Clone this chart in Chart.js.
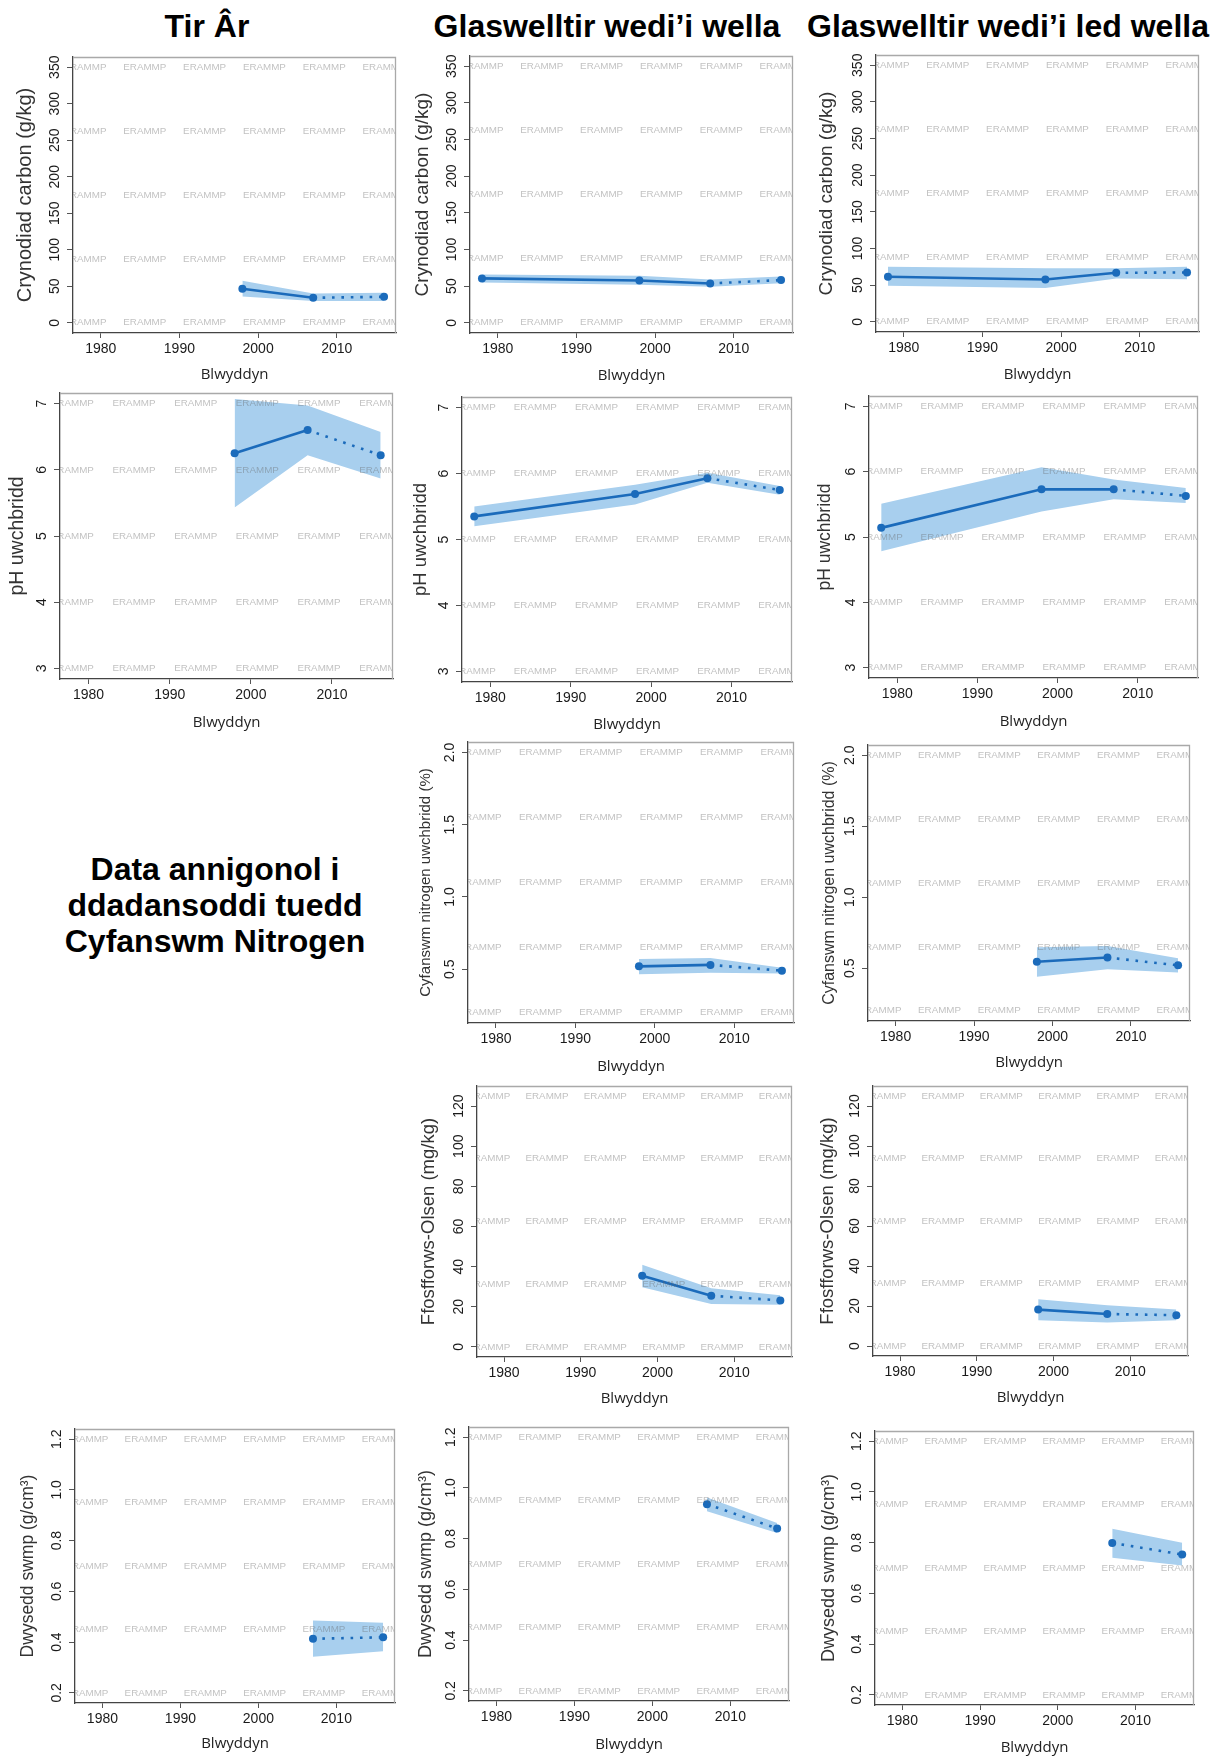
<!DOCTYPE html>
<html><head><meta charset="utf-8">
<script src="https://cdn.jsdelivr.net/npm/chart.js@4.4.1/dist/chart.umd.min.js"></script>
<style>
html,body{margin:0;padding:0;background:#fff;}
body{width:1217px;height:1758px;position:relative;overflow:hidden;font-family:'Liberation Sans',Arial,sans-serif;}
.hd{position:absolute;top:10px;font-weight:bold;font-size:32px;line-height:32px;color:#000;white-space:nowrap;transform:translateX(-50%);}
.note{position:absolute;left:215px;top:851px;transform:translateX(-50%);font-weight:bold;font-size:32px;line-height:36px;text-align:center;white-space:nowrap;color:#000;}
canvas{position:absolute;}
</style></head><body>
<div class="hd" style="left:207px">Tir Âr</div>
<div class="hd" style="left:607px">Glaswelltir wedi’i wella</div>
<div class="hd" style="left:1008px">Glaswelltir wedi’i led wella</div>
<div class="note">Data annigonol i<br>ddadansoddi tuedd<br>Cyfanswm Nitrogen</div>
<script>
// ---------- data ----------
const years = [1978, 1998, 2007, 2016];
const yearRange = [1978, 2016];
const yearTicks = [1980, 1990, 2000, 2010];
const yearTitle = 'Blwyddyn';

const carbonTitle = 'Crynodiad carbon (g/kg)';
const carbonRange = [0, 350];
const carbonTicks = [0, 50, 100, 150, 200, 250, 300, 350];
const carbonTickLabels = ['0', '50', '100', '150', '200', '250', '300', '350'];

const phTitle = 'pH uwchbridd';
const phRange = [3, 7];
const phTicks = [3, 4, 5, 6, 7];
const phTickLabels = ['3', '4', '5', '6', '7'];

const nitrogenTitle = 'Cyfanswm nitrogen uwchbridd (%)';
const nitrogenRange = [0.2, 2.0];
const nitrogenTicks = [0.5, 1.0, 1.5, 2.0];
const nitrogenTickLabels = ['0.5', '1.0', '1.5', '2.0'];

const phosphorusTitle = 'Ffosfforws-Olsen (mg/kg)';
const phosphorusRange = [0, 125];
const phosphorusTicks = [0, 20, 40, 60, 80, 100, 120];
const phosphorusTickLabels = ['0', '20', '40', '60', '80', '100', '120'];

const densityTitle = 'Dwysedd swmp (g/cm³)';
const densityRange = [0.2, 1.2];
const densityTicks = [0.2, 0.4, 0.6, 0.8, 1.0, 1.2];
const densityTickLabels = ['0.2', '0.4', '0.6', '0.8', '1.0', '1.2'];

const watermarkText = 'ERAMMP';

// Carbon
const carbonArable      = [null, 46.5, 34.2, 35.6];
const carbonArableLow   = [null, 36.0, 29.7, 29.7];
const carbonArableHigh  = [null, 57.5, 40.2, 41.0];
const carbonImproved     = [60.5, 57.7, 53.6, 58.2];
const carbonImprovedLow  = [55.0, 52.0, 49.0, 54.0];
const carbonImprovedHigh = [66.0, 64.0, 59.0, 63.0];
const carbonSemi     = [61.4, 57.7, 66.8, 67.3];
const carbonSemiLow  = [49.0, 46.0, 59.0, 58.0];
const carbonSemiHigh = [75.0, 73.0, 73.0, 75.0];

// pH
const phArable     = [null, 6.25, 6.60, 6.22];
const phArableLow  = [null, 5.43, 6.22, 5.87];
const phArableHigh = [null, 7.07, 6.97, 6.57];
const phImproved     = [5.35, 5.69, 5.93, 5.75];
const phImprovedLow  = [5.20, 5.53, 5.86, 5.68];
const phImprovedHigh = [5.50, 5.83, 6.01, 5.81];
const phSemi     = [5.14, 5.73, 5.73, 5.63];
const phSemiLow  = [4.78, 5.39, 5.58, 5.52];
const phSemiHigh = [5.51, 6.07, 5.88, 5.75];

// Nitrogen
const nitrogenImproved     = [null, 0.52, 0.53, 0.49];
const nitrogenImprovedLow  = [null, 0.465, 0.475, 0.47];
const nitrogenImprovedHigh = [null, 0.57, 0.578, 0.51];
const nitrogenSemi     = [null, 0.545, 0.575, 0.52];
const nitrogenSemiLow  = [null, 0.44, 0.493, 0.47];
const nitrogenSemiHigh = [null, 0.648, 0.657, 0.57];

// Phosphorus
const phosphorusImproved     = [null, 35.5, 25.5, 23.2];
const phosphorusImprovedLow  = [null, 29.7, 21.4, 21.0];
const phosphorusImprovedHigh = [null, 41.0, 29.3, 25.7];
const phosphorusSemi     = [null, 18.2, 16.0, 15.4];
const phosphorusSemiLow  = [null, 12.9, 11.7, 12.9];
const phosphorusSemiHigh = [null, 23.4, 20.4, 18.2];

// Bulk density
const densityArable     = [null, null, 0.413, 0.419];
const densityArableLow  = [null, null, 0.342, 0.364];
const densityArableHigh = [null, null, 0.485, 0.476];
const densityImproved     = [null, null, 0.936, 0.840];
const densityImprovedLow  = [null, null, 0.908, 0.822];
const densityImprovedHigh = [null, null, 0.962, 0.862];
const densitySemi     = [null, null, 0.799, 0.753];
const densitySemiLow  = [null, null, 0.740, 0.710];
const densitySemiHigh = [null, null, 0.855, 0.800];

// ---------- axes ----------
const axes = {
  carbon:     {title: carbonTitle, range: carbonRange, ticks: carbonTicks, labels: carbonTickLabels},
  ph:         {title: phTitle, range: phRange, ticks: phTicks, labels: phTickLabels},
  nitrogen:   {title: nitrogenTitle, range: nitrogenRange, ticks: nitrogenTicks, labels: nitrogenTickLabels},
  phosphorus: {title: phosphorusTitle, range: phosphorusRange, ticks: phosphorusTicks, labels: phosphorusTickLabels},
  density:    {title: densityTitle, range: densityRange, ticks: densityTicks, labels: densityTickLabels}
};

// ---------- layout (plot boxes: left, top, right, bottom) ----------
const panels = [
  {axis:'carbon', mean:carbonArable, low:carbonArableLow, high:carbonArableHigh, box:[73,57,396,333], tOff:48, tSize:20, xt:42},
  {axis:'carbon', mean:carbonImproved, low:carbonImprovedLow, high:carbonImprovedHigh, box:[470,56,793,333], tOff:47, tSize:19, xt:43},
  {axis:'carbon', mean:carbonSemi, low:carbonSemiLow, high:carbonSemiHigh, box:[876,55,1199,332], tOff:49, tSize:19, xt:43},
  {axis:'ph', mean:phArable, low:phArableLow, high:phArableHigh, box:[60,393,393,679], tOff:42, tSize:19.5, xt:44},
  {axis:'ph', mean:phImproved, low:phImprovedLow, high:phImprovedHigh, box:[462,397,792,682], tOff:41, tSize:18.5, xt:43},
  {axis:'ph', mean:phSemi, low:phSemiLow, high:phSemiHigh, box:[869,396,1198,678], tOff:44, tSize:17.5, xt:44},
  {axis:'nitrogen', mean:nitrogenImproved, low:nitrogenImprovedLow, high:nitrogenImprovedHigh, box:[468,742,794,1023], tOff:42, tSize:15, xt:44},
  {axis:'nitrogen', mean:nitrogenSemi, low:nitrogenSemiLow, high:nitrogenSemiHigh, box:[868,745,1190,1021], tOff:38, tSize:16, xt:42},
  {axis:'phosphorus', mean:phosphorusImproved, low:phosphorusImprovedLow, high:phosphorusImprovedHigh, box:[477,1086,792,1357], tOff:48, tSize:18.5, xt:42},
  {axis:'phosphorus', mean:phosphorusSemi, low:phosphorusSemiLow, high:phosphorusSemiHigh, box:[873,1086,1188,1356], tOff:45, tSize:18.5, xt:42},
  {axis:'density', mean:densityArable, low:densityArableLow, high:densityArableHigh, box:[75,1429,395,1703], tOff:47, tSize:17.5, xt:41},
  {axis:'density', mean:densityImproved, low:densityImprovedLow, high:densityImprovedHigh, box:[469,1427,789,1701], tOff:43, tSize:18, xt:44},
  {axis:'density', mean:densitySemi, low:densitySemiLow, high:densitySemiHigh, box:[875,1431,1194,1705], tOff:46, tSize:18, xt:43}
];

const LINE = '#1b6bbb';
const BAND = '#a8cfee';
const FONT = "'Liberation Sans', Arial, sans-serif";
Chart.defaults.font.family = FONT;

const W = 66, PT = 8, PR = 8, H = 62;

function makePanel(p) {
  const [L, T, R, B] = p.box;
  const ax = axes[p.axis];
  const cw = W + (R - L) + PR, ch = PT + (B - T) + H;
  const cv = document.createElement('canvas');
  cv.width = cw; cv.height = ch;
  cv.style.left = (L - W) + 'px'; cv.style.top = (T - PT) + 'px';
  cv.style.width = cw + 'px'; cv.style.height = ch + 'px';
  document.body.appendChild(cv);

  const ypad = (ax.range[1] - ax.range[0]) * 0.04;
  const xpad = (yearRange[1] - yearRange[0]) * 0.04;
  const pts = arr => years.map((x, i) => ({x: x, y: arr[i]}));
  const xtSize = 15, xtLH = xtSize * 1.2;
  const ytLH = p.tSize * 1.2;

  const decor = {
    id: 'decor',
    afterDatasetsDraw(chart) {
      const {ctx, chartArea: a, scales: {x, y}} = chart;
      ctx.save();
      ctx.beginPath(); ctx.rect(a.left, a.top, a.right - a.left, a.bottom - a.top); ctx.clip();
      ctx.font = '9.8px ' + FONT;
      ctx.fillStyle = 'rgba(100,100,100,0.40)';
      ctx.textAlign = 'center'; ctx.textBaseline = 'middle';
      for (let i = 0; i < 6; i++) {
        const xv = yearRange[0] + i * (yearRange[1] - yearRange[0]) / 5;
        for (let j = 0; j < 5; j++) {
          const yv = ax.range[0] + j * (ax.range[1] - ax.range[0]) / 4;
          ctx.fillText(watermarkText, x.getPixelForValue(xv), y.getPixelForValue(yv));
        }
      }
      ctx.restore();
    },
    afterDraw(chart) {
      const {ctx, chartArea: a, scales: {y}} = chart;
      ctx.save();
      ctx.strokeStyle = '#a9a9a9'; ctx.lineWidth = 1.3;
      ctx.beginPath();
      ctx.moveTo(a.left, a.top + 0.5); ctx.lineTo(a.right - 0.5, a.top + 0.5); ctx.lineTo(a.right - 0.5, a.bottom);
      ctx.stroke();
      ctx.font = '14px ' + FONT; ctx.fillStyle = '#1a1a1a';
      ctx.textAlign = 'center'; ctx.textBaseline = 'middle';
      y.ticks.forEach((t, i) => {
        ctx.save();
        ctx.translate(a.left - 18, y.getPixelForValue(t.value));
        ctx.rotate(-Math.PI / 2);
        ctx.fillText(ax.labels[i], 0, 0);
        ctx.restore();
      });
      ctx.restore();
    }
  };

  new Chart(cv, {
    type: 'line',
    data: {datasets: [
      {data: pts(p.mean), borderColor: LINE, backgroundColor: LINE, borderWidth: 2.6,
       pointRadius: 4, pointBackgroundColor: LINE, pointBorderWidth: 0, fill: false,
       borderCapStyle: 'butt',
       segment: {borderDash: c => c.p0.parsed.x >= 2007 ? [2.6, 6.8] : undefined}},
      {data: pts(p.high), borderColor: 'rgba(0,0,0,0)', borderWidth: 0, pointRadius: 0, fill: '+1', backgroundColor: BAND},
      {data: pts(p.low), borderColor: 'rgba(0,0,0,0)', borderWidth: 0, pointRadius: 0, fill: false}
    ]},
    options: {
      responsive: false, animation: false, events: [],
      layout: {padding: {left: 0, top: PT, right: PR, bottom: 0}},
      plugins: {legend: {display: false}, tooltip: {enabled: false}},
      scales: {
        x: {type: 'linear', min: yearRange[0] - xpad, max: yearRange[1] + xpad,
          afterBuildTicks: s => { s.ticks = yearTicks.map(v => ({value: v})); },
          afterFit: s => { s.height = H; },
          ticks: {font: {size: 14}, color: '#1a1a1a', padding: 3, maxRotation: 0, autoSkip: false, callback: v => String(v)},
          grid: {drawOnChartArea: false, drawTicks: true, tickLength: 5, color: '#555'},
          border: {display: true, color: '#444', width: 1.3},
          title: {display: true, text: yearTitle, color: '#222', font: {family: "'Open Sans', " + FONT, size: xtSize},
                  padding: {top: 0, bottom: H - p.xt - xtLH / 2}}},
        y: {type: 'linear', min: ax.range[0] - ypad, max: ax.range[1] + ypad,
          afterBuildTicks: s => { s.ticks = ax.ticks.map(v => ({value: v})); },
          afterFit: s => { s.width = W; },
          ticks: {display: false},
          grid: {drawOnChartArea: false, drawTicks: true, tickLength: 6, color: '#555'},
          border: {display: true, color: '#444', width: 1.3},
          title: {display: true, text: ax.title, color: '#333', font: {size: p.tSize},
                  padding: {top: W - p.tOff - ytLH / 2, bottom: 0}}}
      }
    },
    plugins: [decor]
  });
}

panels.forEach(makePanel);
</script>
</body></html>
